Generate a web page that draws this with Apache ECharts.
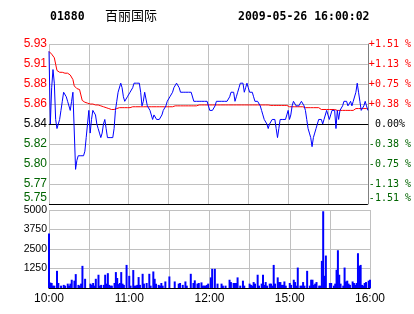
<!DOCTYPE html>
<html>
<head>
<meta charset="utf-8">
<script src="https://cdn.jsdelivr.net/npm/echarts@6/dist/echarts.min.js"></script>
<style>html,body{margin:0;padding:0;background:#fff}#c{width:414px;height:314px}</style>
</head>
<body>
<div id="c"></div>
<script>
// ---- data ----
const stockCode = '01880';
const stockName = '百丽国际';
const stamp = '2009-05-26 16:00:02';
const prevClose = 5.84;
const pctRange = 1.51;           // axis covers ±1.51 %
const priceTickLabels = ['5.75','5.77','5.80','5.82','5.84','5.86','5.88','5.91','5.93'];
const pctTickLabels = ['-1.51 %','-1.13 %','-0.75 %','-0.38 %',' 0.00%','+0.38 %','+0.75 %','+1.13 %','+1.51 %'];
const volTickLabels = {1250:'1250', 2500:'2500', 3750:'3750', 5000:'5000'};
const timeTickLabels = {0:'10:00', 60:'11:00', 120:'12:00', 180:'15:00', 240:'16:00'};

// per trading minute (0 = 10:00 ... 240 = 16:00)
const price = [
5.92,5.84,5.88,5.90,5.885,5.845,5.835,5.84,5.845,5.855,
5.865,5.875,5.875,5.87,5.865,5.865,5.855,5.865,5.875,5.875,
5.79,5.80,5.805,5.805,5.805,5.805,5.805,5.81,5.825,5.84,
5.855,5.83,5.845,5.855,5.855,5.85,5.84,5.835,5.83,5.825,
5.83,5.84,5.845,5.835,5.825,5.825,5.825,5.825,5.825,5.835,
5.855,5.865,5.875,5.875,5.885,5.88,5.87,5.865,5.865,5.87,
5.87,5.875,5.875,5.88,5.885,5.885,5.885,5.885,5.885,5.875,
5.86,5.865,5.875,5.875,5.86,5.86,5.855,5.855,5.845,5.85,
5.85,5.845,5.845,5.845,5.845,5.85,5.855,5.855,5.86,5.865,
5.865,5.87,5.87,5.875,5.88,5.88,5.885,5.885,5.88,5.875,
5.875,5.875,5.875,5.875,5.875,5.875,5.875,5.875,5.875,5.865,
5.865,5.865,5.865,5.865,5.865,5.865,5.865,5.865,5.865,5.865,
5.865,5.855,5.855,5.855,5.855,5.86,5.865,5.865,5.865,5.865,
5.865,5.865,5.865,5.865,5.865,5.865,5.87,5.875,5.875,5.875,
5.865,5.87,5.875,5.88,5.885,5.885,5.885,5.875,5.88,5.885,
5.88,5.875,5.875,5.875,5.87,5.865,5.865,5.865,5.865,5.86,
5.855,5.85,5.845,5.845,5.84,5.835,5.84,5.84,5.845,5.845,
5.845,5.835,5.825,5.835,5.845,5.845,5.845,5.845,5.845,5.85,
5.855,5.845,5.85,5.86,5.865,5.865,5.86,5.86,5.86,5.86,
5.865,5.865,5.86,5.855,5.845,5.835,5.83,5.825,5.815,5.825,
5.83,5.835,5.84,5.845,5.845,5.845,5.84,5.845,5.845,5.855,
5.855,5.845,5.85,5.855,5.855,5.855,5.835,5.855,5.845,5.855,
5.855,5.86,5.865,5.865,5.865,5.86,5.86,5.865,5.86,5.865,
5.865,5.875,5.885,5.875,5.865,5.855,5.855,5.86,5.865,5.86,5.855
];
const avgPrice = [
5.92,5.918,5.917,5.916,5.913,5.906,5.899,5.897,5.897,5.897,
5.897,5.897,5.896,5.896,5.896,5.895,5.894,5.892,5.889,5.882,
5.880,5.879,5.879,5.878,5.872,5.866,5.865,5.864,5.863,5.863,
5.863,5.862,5.862,5.862,5.862,5.861,5.861,5.861,5.860,5.860,
5.859,5.859,5.858,5.858,5.857,5.857,5.856,5.856,5.856,5.856,
5.857,5.857,5.857,5.858,5.858,5.858,5.858,5.858,5.858,5.858,
5.858,5.858,5.858,5.859,5.859,5.859,5.859,5.859,5.859,5.859,
5.859,5.859,5.859,5.859,5.859,5.859,5.859,5.859,5.859,5.859,
5.859,5.859,5.859,5.859,5.859,5.859,5.859,5.859,5.859,5.859,
5.859,5.859,5.859,5.859,5.859,5.860,5.860,5.860,5.860,5.860,
5.860,5.860,5.860,5.860,5.860,5.860,5.860,5.860,5.860,5.860,
5.860,5.860,5.860,5.861,5.861,5.861,5.861,5.861,5.861,5.861,
5.861,5.861,5.861,5.861,5.861,5.861,5.861,5.861,5.861,5.861,
5.861,5.861,5.861,5.861,5.861,5.861,5.861,5.861,5.861,5.861,
5.861,5.861,5.861,5.861,5.861,5.861,5.861,5.861,5.861,5.861,
5.861,5.861,5.861,5.861,5.861,5.861,5.861,5.861,5.861,5.861,
5.861,5.861,5.861,5.861,5.861,5.861,5.8605,5.8605,5.8605,5.8605,
5.8605,5.8605,5.8605,5.8605,5.8605,5.8605,5.8605,5.8605,5.8605,5.8605,
5.859,5.859,5.859,5.859,5.859,5.859,5.859,5.859,5.859,5.859,
5.859,5.859,5.859,5.858,5.858,5.858,5.858,5.858,5.858,5.858,
5.858,5.858,5.858,5.858,5.856,5.856,5.856,5.856,5.856,5.856,
5.856,5.856,5.856,5.856,5.856,5.856,5.855,5.855,5.855,5.855,
5.855,5.855,5.855,5.855,5.855,5.855,5.855,5.855,5.855,5.855,
5.855,5.857,5.857,5.857,5.857,5.857,5.857,5.857,5.857,5.857,5.857
];
const volume = [
3500,350,320,150,150,0,1100,320,0,150,
0,200,150,0,280,150,280,530,0,470,
890,0,200,150,280,1420,0,590,0,0,
0,280,200,320,150,590,0,850,150,200,
0,200,850,280,950,200,150,150,0,320,
1020,640,250,320,1020,280,200,0,1480,0,
780,150,0,1150,150,150,200,700,200,0,
910,280,0,320,0,910,150,0,1060,590,
280,0,200,150,320,150,0,420,0,0,
740,0,0,0,420,0,0,280,320,0,
200,0,420,150,0,0,910,0,320,490,
0,280,320,0,360,150,150,150,200,280,
0,680,1230,0,1230,0,280,0,0,280,
150,0,150,0,0,530,380,0,320,320,
320,680,0,150,0,470,150,0,0,0,
280,200,150,380,280,0,850,150,0,280,
850,200,380,150,0,280,280,150,1480,280,
0,680,380,380,200,200,420,150,0,0,
320,200,0,530,380,150,1310,0,150,150,
380,150,0,1100,0,150,530,530,200,280,
380,0,150,150,1740,4920,780,2080,0,0,
320,320,0,150,280,1170,2420,850,280,0,
150,1310,420,470,280,200,0,420,320,200,
320,2230,1420,1480,200,150,320,380,0,470,530
];

// ---- chart ----
const stepPct = pctRange / 4;
const toStep = p => ((p / prevClose) - 1) * 100 / stepPct;
const GREEN = '#006400', RED = '#ff0000', GRID = '#c0c0c0';
const idx = v => Math.round(Number(v)) + 4;
const sideColor = v => { const i = idx(v); return i < 4 ? GREEN : (i > 4 ? RED : '#000'); };

const chart = echarts.init(document.getElementById('c'), null, {renderer: 'canvas'});
chart.setOption({
  animation: false,
  backgroundColor: '#fff',
  graphic: [
    {type: 'text', left: 50, top: 11, style: {text: stockCode, font: 'bold 11.5px "DejaVu Sans Mono"', fill: '#000'}},
    {type: 'text', left: 105, top: 9, style: {text: stockName, font: '13px "Noto Sans CJK SC"', fill: '#000'}},
    {type: 'text', left: 238, top: 11, style: {text: stamp, font: 'bold 11.5px "DejaVu Sans Mono"', fill: '#000'}}
  ],
  grid: [
    {left: 49, right: 44, top: 44, height: 160},
    {left: 49, right: 44, top: 210, height: 78}
  ],
  xAxis: [
    {gridIndex: 0, type: 'value', min: 0, max: 240, interval: 30,
     axisLine: {show: true, lineStyle: {color: '#000', width: 1}}, axisTick: {show: false},
     axisLabel: {show: false}, splitLine: {show: true, lineStyle: {color: GRID, width: 1}}},
    {gridIndex: 1, type: 'value', min: 0, max: 240, interval: 30,
     axisLine: {show: true, lineStyle: {color: '#000', width: 1}}, axisTick: {show: false},
     axisLabel: {show: true, margin: 5, color: '#000', fontSize: 12, fontFamily: 'Liberation Sans',
       formatter: v => timeTickLabels[v] || ''},
     splitLine: {show: true, lineStyle: {color: GRID, width: 1}}}
  ],
  yAxis: [
    {gridIndex: 0, type: 'value', min: -4, max: 4, interval: 1, position: 'left',
     axisLine: {show: false}, axisTick: {show: false},
     splitLine: {show: true, lineStyle: {color: ['#000', GRID, GRID, GRID, '#000', GRID, GRID, GRID, GRID], width: 1}},
     axisLabel: {margin: 2, fontSize: 12, fontFamily: 'Liberation Sans', color: sideColor,
       formatter: v => idx(v) === 0 ? '{b|' + priceTickLabels[0] + '}' : priceTickLabels[idx(v)],
       rich: {b: {color: GREEN, fontSize: 12, fontFamily: 'Liberation Sans', padding: [0, 0, 12, 0]}}}},
    {gridIndex: 0, type: 'value', min: -4, max: 4, interval: 1, position: 'right',
     axisLine: {show: true, lineStyle: {color: '#808080', width: 1}}, axisTick: {show: false},
     splitLine: {show: false},
     axisLabel: {margin: 1, fontSize: 10, fontFamily: 'DejaVu Sans Mono', color: sideColor,
       formatter: v => idx(v) === 0 ? '{b|' + pctTickLabels[0] + '}' : pctTickLabels[idx(v)],
       rich: {b: {color: GREEN, fontSize: 10, fontFamily: 'DejaVu Sans Mono', padding: [0, 0, 12, 0]}}}},
    {gridIndex: 1, type: 'value', min: 0, max: 5000, interval: 1250, position: 'left',
     axisLine: {show: false}, axisTick: {show: false},
     splitLine: {show: true, lineStyle: {color: GRID, width: 1}},
     axisLabel: {margin: 2, fontSize: 10.5, fontFamily: 'Liberation Sans', color: '#000',
       formatter: v => volTickLabels[v] || ''}}
  ],
  series: [
    {type: 'line', xAxisIndex: 0, yAxisIndex: 0, showSymbol: false, symbol: 'none',
     data: avgPrice.map((p, i) => [i, toStep(p)]), lineStyle: {color: RED, width: 1}, z: 3},
    {type: 'line', xAxisIndex: 0, yAxisIndex: 0, showSymbol: false, symbol: 'none',
     data: price.map((p, i) => [i, toStep(p)]), lineStyle: {color: '#0000ff', width: 1}, z: 4},
    {type: 'bar', xAxisIndex: 1, yAxisIndex: 2, barWidth: 2,
     data: volume.map((v, i) => [i, v]), itemStyle: {color: '#0000ff'}}
  ]
});
</script>
</body>
</html>
